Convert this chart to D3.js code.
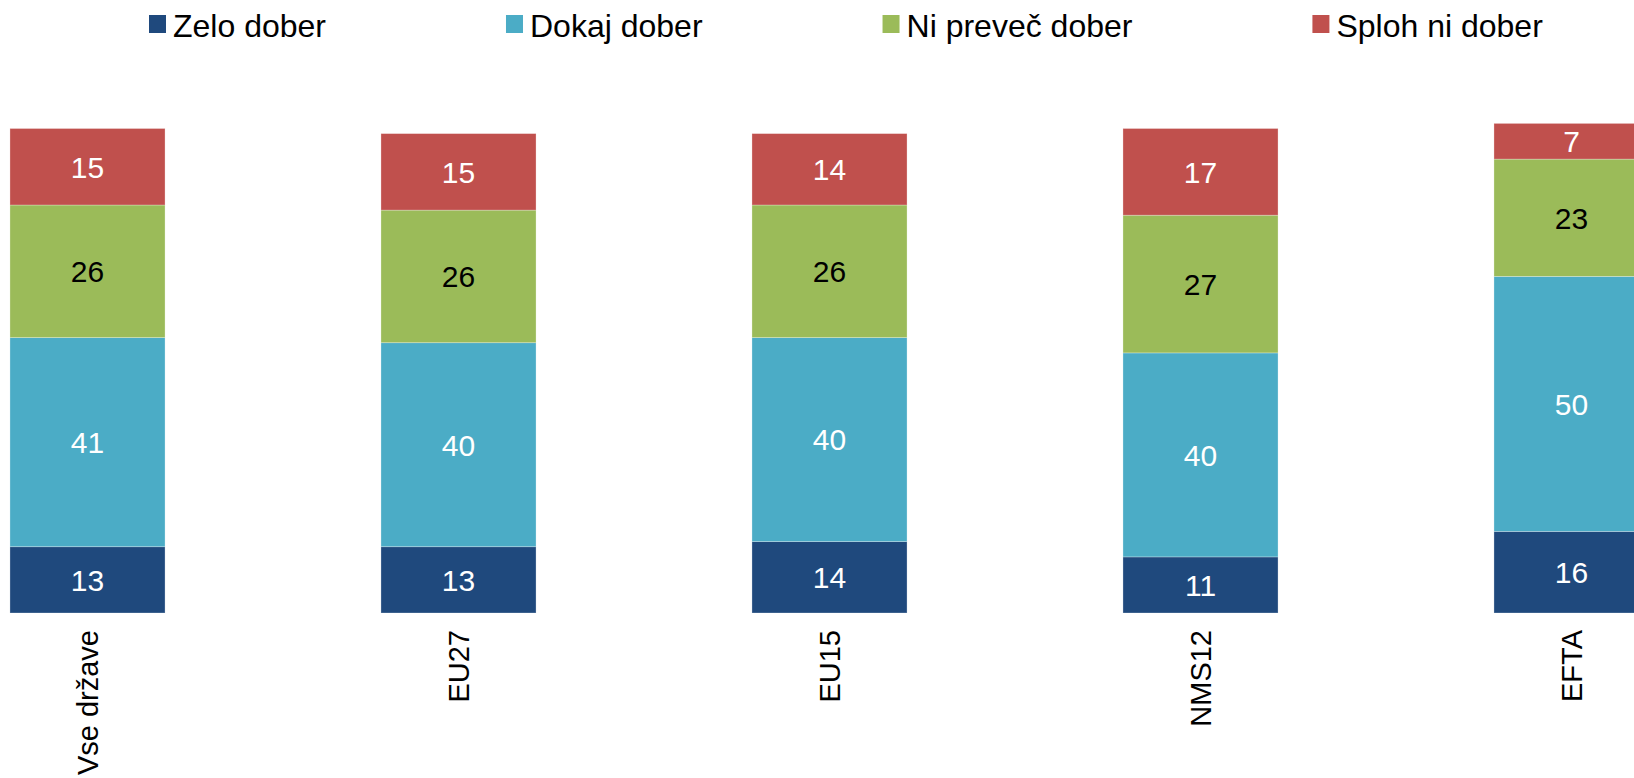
<!DOCTYPE html>
<html>
<head>
<meta charset="utf-8">
<script src="https://cdn.jsdelivr.net/npm/d3@7"></script>
<style>
  body { margin: 0; background: #fff; }
  text { font-family: "Liberation Sans", Arial, sans-serif; }
</style>
</head>
<body>
<svg class="chart"></svg>
<script>
var width = 1634,
    height = 778

// data (percent)
var categories = ["Vse države", "EU27", "EU15", "NMS12", "EFTA"]
var seriesNames = ["Zelo dober", "Dokaj dober", "Ni preveč dober", "Sploh ni dober"]
var zeloDober = [13, 13, 14, 11, 16]
var dokajDober = [41, 40, 40, 40, 50]
var niPrevec = [26, 26, 26, 27, 23]
var splohNi = [15, 15, 14, 17, 7]

var colors = ["#1F497D", "#4BACC6", "#9BBB59", "#C0504D"]
var labelColors = ["#fff", "#fff", "#000", "#fff"]

var rows = categories.map((c, i) => ({
    cat: c,
    "Zelo dober": zeloDober[i],
    "Dokaj dober": dokajDober[i],
    "Ni preveč dober": niPrevec[i],
    "Sploh ni dober": splohNi[i]
}))

var stacked = d3.stack().keys(seriesNames)(rows)

var chart = d3.select(".chart")
    .attr("width", width)
    .attr("height", height)

// plot area runs past both edges of the picture
var xScale = d3.scaleBand()
    .domain(categories)
    .range([-98, 1757])
    .paddingInner(0.582)
    .paddingOuter(0.291)

var yScale = d3.scaleLinear()
    .domain([0, 100])
    .range([613, 103])

var layers = chart.append("g")
    .selectAll("g")
    .data(stacked)
    .join("g")
    .attr("fill", (d, i) => colors[i])

layers.selectAll("rect")
    .data(d => d)
    .join("rect")
    .attr("x", d => xScale(d.data.cat))
    .attr("width", xScale.bandwidth())
    .attr("y", d => yScale(d[1]))
    .attr("height", d => yScale(d[0]) - yScale(d[1]))
    .attr("stroke", "#fff")
    .attr("stroke-opacity", 0.35)
    .attr("stroke-width", 0.8)

layers.each(function (s, si) {
    d3.select(this).selectAll("text")
        .data(s)
        .join("text")
        .attr("x", d => xScale(d.data.cat) + xScale.bandwidth() / 2)
        .attr("y", d => (yScale(d[0]) + yScale(d[1])) / 2)
        .attr("dy", "0.36em")
        .attr("text-anchor", "middle")
        .attr("fill", labelColors[si])
        .style("font-size", "30px")
        .text(d => d[1] - d[0])
})

// category labels, rotated
chart.append("g")
    .selectAll("text")
    .data(categories)
    .join("text")
    .attr("transform", d => `translate(${xScale(d) + xScale.bandwidth() / 2},630) rotate(-90)`)
    .attr("dy", "0.36em")
    .attr("text-anchor", "end")
    .style("font-size", "29px")
    .text(d => d)

// legend
var legend = chart.append("g").attr("class", "legend")
var lx = 149
seriesNames.forEach(function (name, i) {
    var item = legend.append("g").attr("transform", `translate(${lx},0)`)
    item.append("rect")
        .attr("x", 0)
        .attr("y", 15)
        .attr("width", 17)
        .attr("height", 18)
        .attr("fill", colors[i])
    var t = item.append("text")
        .attr("x", 24)
        .attr("y", 37)
        .style("font-size", "32px")
        .text(name)
    lx += 24 + t.node().getComputedTextLength() + 180
})
</script>
</body>
</html>
